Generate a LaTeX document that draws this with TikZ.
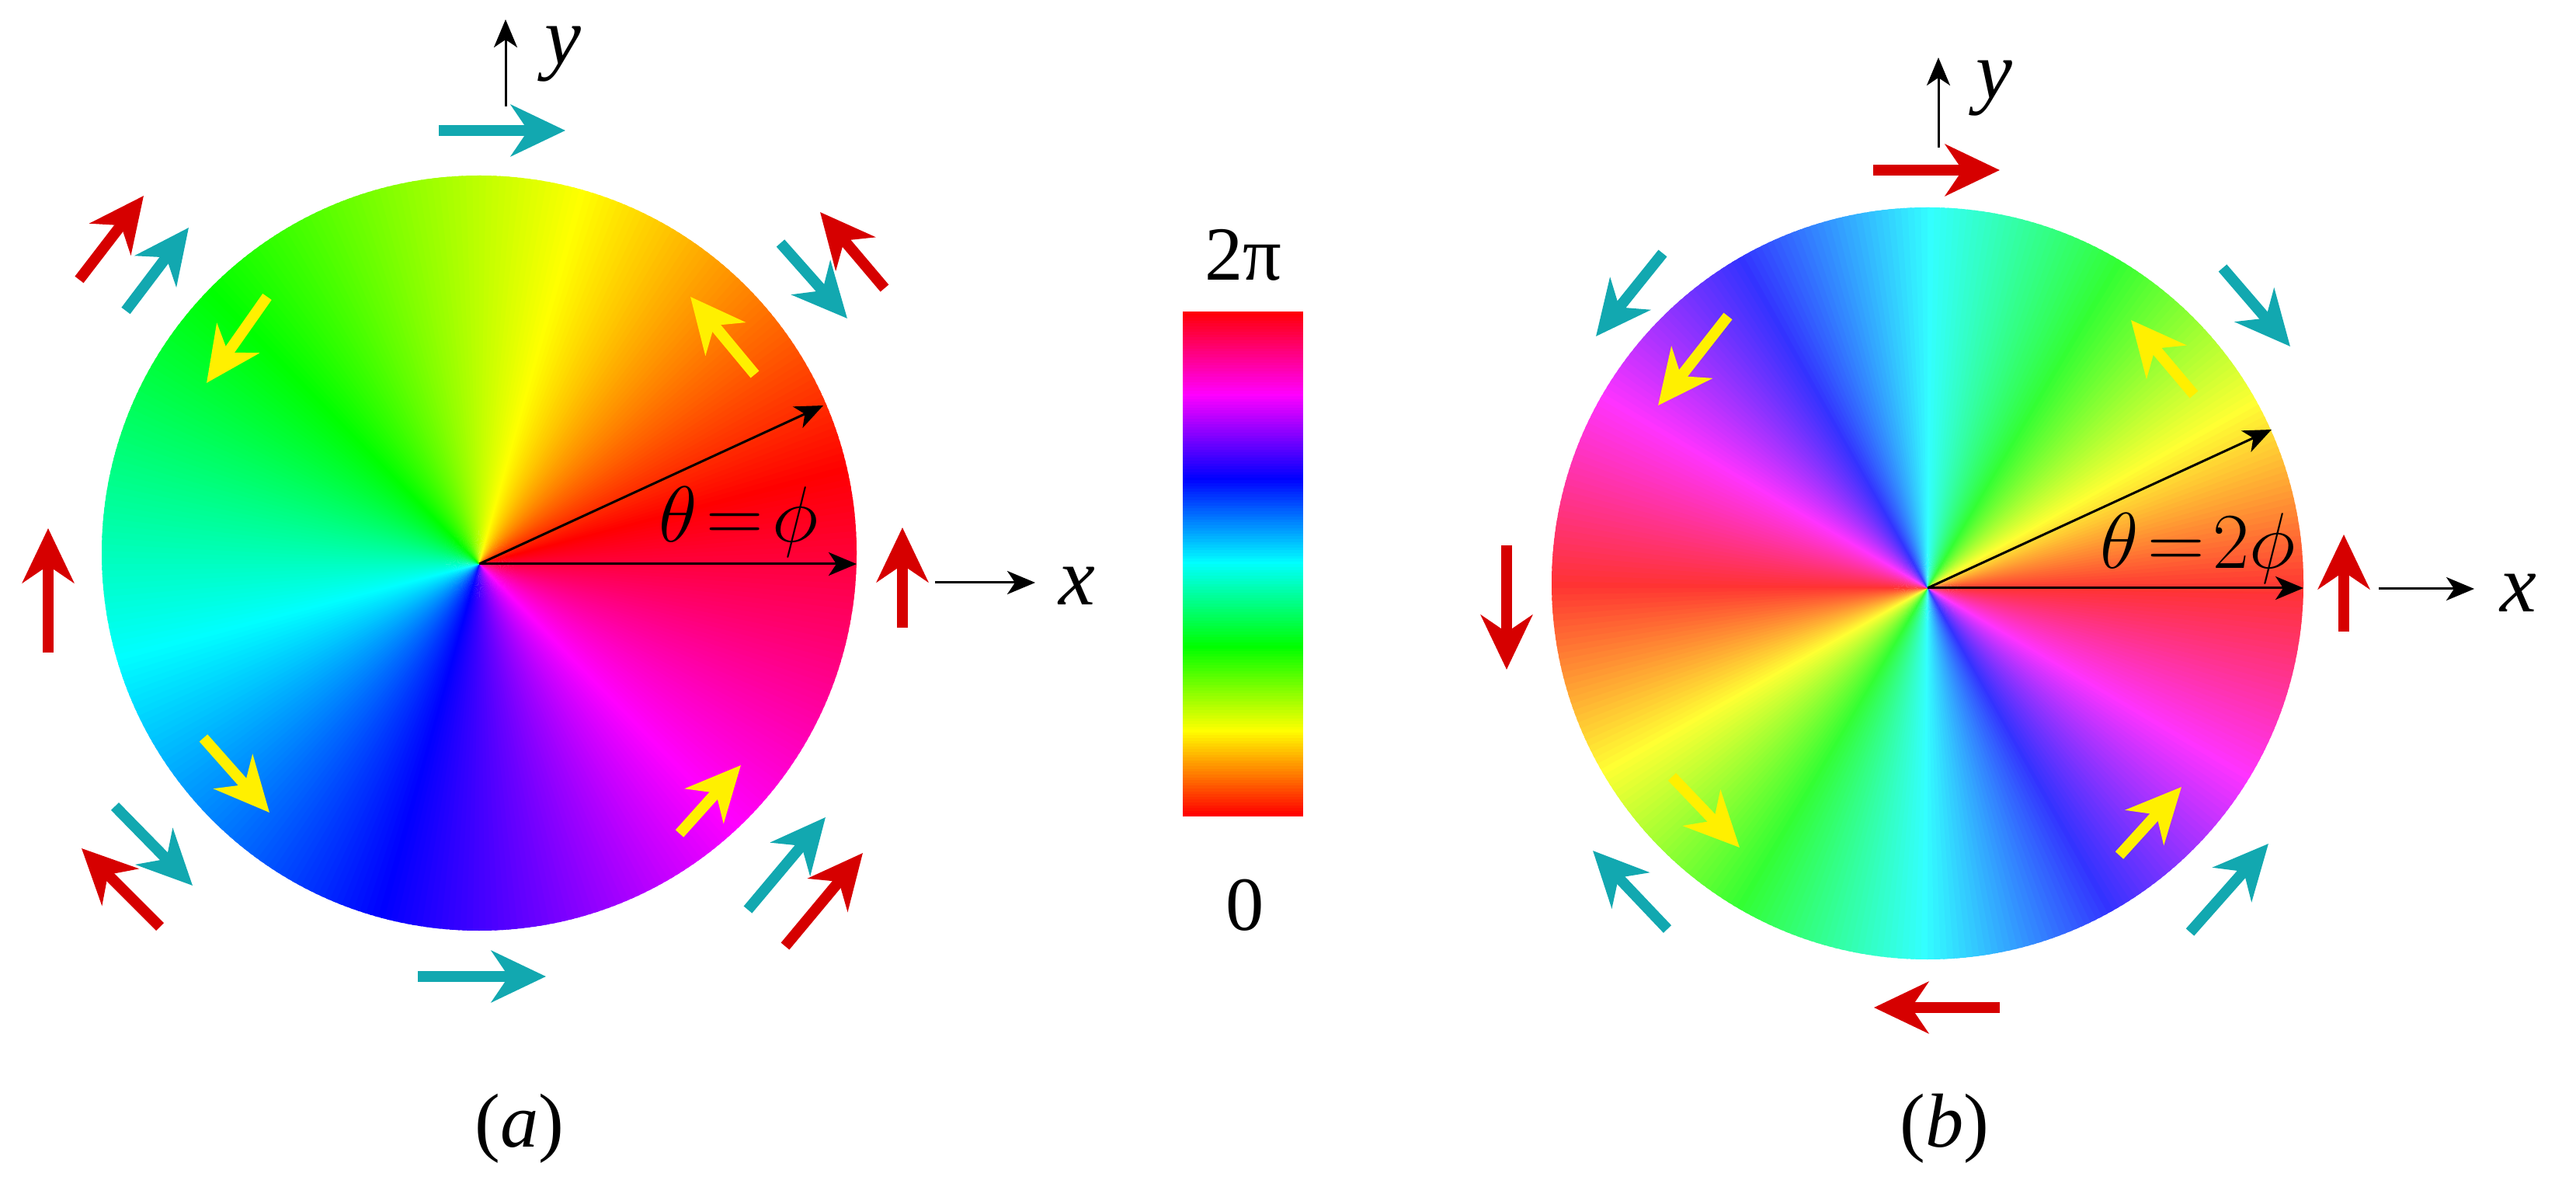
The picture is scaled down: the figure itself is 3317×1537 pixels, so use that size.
\RequirePackage{fix-cm}
\documentclass[tikz,border=0pt]{standalone}
\usepackage{fontspec}
\setmainfont{Liberation Serif}
\usetikzlibrary{arrows.meta}
\definecolor{ared}{RGB}{214,0,0}
\definecolor{ateal}{RGB}{18,168,176}
\definecolor{ayel}{RGB}{255,240,0}
\tikzset{
  blockarrow/.style={line width=0.14cm, -{Stealth[length=0.70cm,width=0.66cm,inset=0.22cm]}},
  redarrow/.style={blockarrow, draw=ared, fill=ared},
  tealarrow/.style={blockarrow, draw=ateal, fill=ateal},
  yelarrow/.style={blockarrow, draw=ayel, fill=ayel},
  axarrow/.style={line width=0.03cm, black, -{Stealth[length=0.36cm,width=0.30cm,inset=0.1cm]}},
  lbl/.style={inner sep=0pt, font=\fontsize{28}{34}\selectfont},
  itl/.style={inner sep=0pt, font=\fontsize{30}{36}\selectfont\itshape},
  mlbl/.style={inner sep=0pt, font=\fontsize{29}{35}\selectfont},
}
\begin{document}
\begin{tikzpicture}[x=0.01cm,y=-0.01cm]
\useasboundingbox (0,0) rectangle (3317,1537);
% ---------- wheel (a)
\coordinate (ca) at (617,712);
\coordinate (oa) at (617,726);
\begin{scope}
  \clip (ca) circle[radius=486];
  \foreach \a in {0,...,359}{
    \pgfmathtruncatemacro{\h}{mod(705-\a,360)}
    \definecolor{wc}{Hsb}{\h,1,1}
    \fill[wc] (oa) -- ++(\a:540) arc[start angle=\a,end angle=\a+1.6,radius=540] -- cycle;
  }
\end{scope}
% ---------- wheel (b)
\coordinate (cb) at (2482,751);
\coordinate (ob) at (2482,757);
\begin{scope}
  \clip (cb) circle[radius=484];
  \foreach \a in {0,...,359}{
    \pgfmathtruncatemacro{\h}{mod(720-2*\a,360)}
    \definecolor{wc}{Hsb}{\h,0.8,1}
    \fill[wc] (ob) -- ++(\a:540) arc[start angle=\a,end angle=\a+1.6,radius=540] -- cycle;
  }
\end{scope}
% ---------- colour bar
\begin{scope}
  \clip (1523,402) rectangle (1678,1051);
  \foreach \i in {0,...,179}{
    \pgfmathtruncatemacro{\h}{2*\i}
    \definecolor{wc}{Hsb}{\h,1,1}
    \pgfmathsetmacro{\yy}{1051-\i*3.6056}
    \fill[wc] (1523,\yy) rectangle (1678,\yy-4.6);
  }
\end{scope}
\node[lbl] (twopi) at (1601,328) {2π};
\node[lbl] (zero) at (1603,1165) {0};
% ---------- radial arrows (a)
\coordinate (ra1) at (1103,726);
\coordinate (ra2) at (1060,522);
\draw[axarrow] (oa) -- (ra1);
\draw[axarrow] (oa) -- (ra2);
\node[mlbl] (tha) at (951,672) {$\theta\!=\!\phi$};
% ---------- radial arrows (b)
\coordinate (rb1) at (2966,757);
\coordinate (rb2) at (2925,553);
\draw[axarrow] (ob) -- (rb1);
\draw[axarrow] (ob) -- (rb2);
\node[mlbl] (thb) at (2830,706) {$\theta\!=\!2\phi$};
% ---------- axes (a)
\coordinate (ya0) at (651,137); \coordinate (ya1) at (651,25);
\draw[axarrow] (ya0) -- (ya1);
\node[itl] (yla) at (725,70) {y};
\coordinate (xa0) at (1204,750); \coordinate (xa1) at (1333,750);
\draw[axarrow] (xa0) -- (xa1);
\node[itl] (xla) at (1387,754) {x};
% ---------- axes (b)
\coordinate (yb0) at (2496,190); \coordinate (yb1) at (2496,74);
\draw[axarrow] (yb0) -- (yb1);
\node[itl] (ylb) at (2568,114) {y};
\coordinate (xb0) at (3063,758); \coordinate (xb1) at (3186,758);
\draw[axarrow] (xb0) -- (xb1);
\node[itl] (xlb) at (3243,763) {x};
% ---------- block arrows (a)
\draw[tealarrow] (565,168) -- (728,168);
\draw[redarrow]  (102,360) -- (185,252);
\draw[tealarrow] (162,400) -- (243,293);
\draw[redarrow]  (1139,371) -- (1056,273);
\draw[tealarrow] (1005,313) -- (1091,410);
\draw[yelarrow]  (344,382) -- (266,493);
\draw[yelarrow]  (972,482) -- (889,382);
\draw[yelarrow]  (262,950) -- (347,1046);
\draw[yelarrow]  (875,1073) -- (954,985);
\draw[redarrow]  (62,840) -- (62,680);
\draw[redarrow]  (1162,808) -- (1162,679);
\draw[tealarrow] (148,1038) -- (248,1140);
\draw[redarrow]  (206,1193) -- (105,1092);
\draw[tealarrow] (963,1171) -- (1063,1052);
\draw[redarrow]  (1011,1218) -- (1111,1098);
\draw[tealarrow] (538,1257) -- (703,1257);
% ---------- block arrows (b)
\draw[redarrow]  (2412,219) -- (2575,219);
\draw[tealarrow] (2141,326) -- (2055,433);
\draw[tealarrow] (2862,345) -- (2949,446);
\draw[yelarrow]  (2225,407) -- (2135,522);
\draw[yelarrow]  (2825,508) -- (2744,412);
\draw[yelarrow]  (2153,1000) -- (2240,1091);
\draw[yelarrow]  (2729,1101) -- (2809,1013);
\draw[redarrow]  (1940,702) -- (1940,862);
\draw[redarrow]  (3018,813) -- (3018,688);
\draw[tealarrow] (2147,1196) -- (2051,1095);
\draw[tealarrow] (2820,1200) -- (2921,1086);
\draw[redarrow]  (2575,1297) -- (2413,1297);
% ---------- captions
\node[lbl] (capa) at (669,1453) {(\textit{a})};
\node[lbl] (capb) at (2504,1453) {(\textit{b})};
\end{tikzpicture}
\end{document}
